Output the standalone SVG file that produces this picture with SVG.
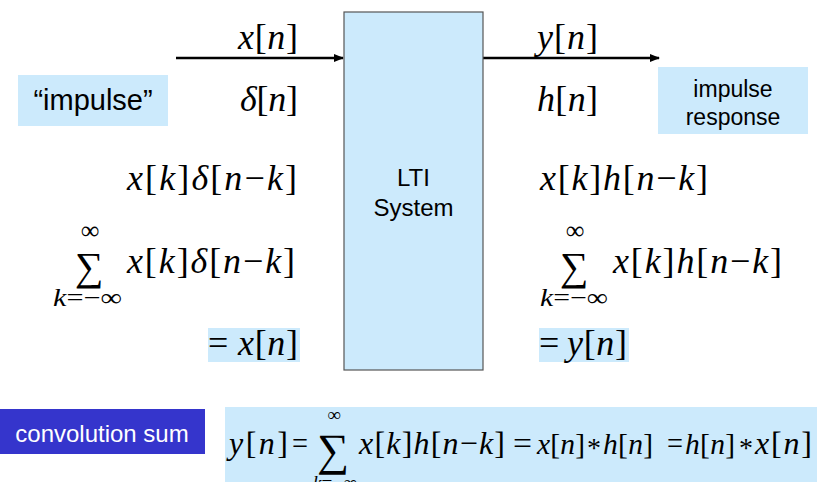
<svg xmlns="http://www.w3.org/2000/svg" width="817" height="482" viewBox="0 0 817 482">
<style>
.m{font-family:"Liberation Serif","Times New Roman",serif;fill:#000}
.i{font-style:italic}
.s{font-family:"Liberation Sans",Arial,sans-serif;fill:#000}
.hl{fill:#CCEAFC}
.ln{stroke:#000;stroke-width:2.5;fill:none}
</style>
<defs>
<marker id="ah" viewBox="0 0 10 10" refX="9" refY="5" markerWidth="4" markerHeight="4" orient="auto" markerUnits="strokeWidth">
<path d="M0,1 L10,5 L0,9 Z" fill="#000"/>
</marker>
</defs>
<rect width="817" height="482" fill="#fff"/>
<g id="connectors">
<line class="ln" x1="176" y1="58" x2="343" y2="58" marker-end="url(#ah)"/>
<line class="ln" x1="483" y1="58" x2="659" y2="58" marker-end="url(#ah)"/>
</g>
<g id="lti">
<rect x="344" y="12" width="139" height="358" fill="#CCEAFC" stroke="#555" stroke-width="1.2"/>
<text class="s" x="413.5" y="186" font-size="24" text-anchor="middle">LTI</text>
<text class="s" x="413.5" y="216" font-size="24" text-anchor="middle">System</text>
</g>
<g id="impulse">
<rect class="hl" x="18" y="75" width="150" height="51"/>
<text class="s" x="93" y="110" font-size="29" text-anchor="middle">“impulse”</text>
</g>
<g id="impulse-response">
<rect class="hl" x="658" y="67" width="150" height="67"/>
<text class="s" x="733" y="97" font-size="23" text-anchor="middle">impulse</text>
<text class="s" x="733" y="125" font-size="23" text-anchor="middle">response</text>
</g>
<g id="left-col" class="m" font-size="36">
<text x="238" y="49" textLength="60" lengthAdjust="spacing"><tspan class="i">x</tspan>[<tspan class="i">n</tspan>]</text>
<text x="240" y="111" textLength="58" lengthAdjust="spacing"><tspan class="i">δ</tspan>[<tspan class="i">n</tspan>]</text>
<text x="127" y="190" textLength="170" lengthAdjust="spacing"><tspan class="i">x</tspan>[<tspan class="i">k</tspan>]<tspan class="i">δ</tspan>[<tspan class="i">n</tspan>−<tspan class="i">k</tspan>]</text>
<text x="127" y="273" textLength="168" lengthAdjust="spacing"><tspan class="i">x</tspan>[<tspan class="i">k</tspan>]<tspan class="i">δ</tspan>[<tspan class="i">n</tspan>−<tspan class="i">k</tspan>]</text>
<text x="89" y="280" font-size="40" text-anchor="middle">∑</text>
<text x="90" y="239" font-size="26" text-anchor="middle">∞</text>
<text x="53" y="306" font-size="25" textLength="69" lengthAdjust="spacingAndGlyphs"><tspan class="i">k</tspan>=−∞</text>
<rect class="hl" x="208" y="328" width="92" height="34"/>
<text x="208" y="355">=</text>
<text x="238" y="355" textLength="60" lengthAdjust="spacing"><tspan class="i">x</tspan>[<tspan class="i">n</tspan>]</text>
</g>
<g id="right-col" class="m" font-size="36">
<text x="537" y="49" textLength="61" lengthAdjust="spacing"><tspan class="i">y</tspan>[<tspan class="i">n</tspan>]</text>
<text x="537" y="111" textLength="61" lengthAdjust="spacing"><tspan class="i">h</tspan>[<tspan class="i">n</tspan>]</text>
<text x="540" y="190" textLength="168" lengthAdjust="spacing"><tspan class="i">x</tspan>[<tspan class="i">k</tspan>]<tspan class="i">h</tspan>[<tspan class="i">n</tspan>−<tspan class="i">k</tspan>]</text>
<text x="613" y="273" textLength="169" lengthAdjust="spacing"><tspan class="i">x</tspan>[<tspan class="i">k</tspan>]<tspan class="i">h</tspan>[<tspan class="i">n</tspan>−<tspan class="i">k</tspan>]</text>
<text x="574" y="280" font-size="40" text-anchor="middle">∑</text>
<text x="575" y="239" font-size="26" text-anchor="middle">∞</text>
<text x="540" y="306" font-size="25" textLength="68" lengthAdjust="spacingAndGlyphs"><tspan class="i">k</tspan>=−∞</text>
<rect class="hl" x="539" y="328" width="90" height="34"/>
<text x="539" y="355">=</text>
<text x="567" y="355" textLength="60" lengthAdjust="spacing"><tspan class="i">y</tspan>[<tspan class="i">n</tspan>]</text>
</g>
<g id="convolution-label">
<rect x="0" y="409" width="205" height="45" fill="#3535CC"/>
<text x="102" y="442" font-size="24" text-anchor="middle" font-family="'Liberation Sans',Arial,sans-serif" fill="#fff">convolution sum</text>
</g>
<g id="convolution-formula" class="m" font-size="32">
<rect class="hl" x="225" y="407" width="592" height="75"/>
<text x="229" y="454" textLength="59" lengthAdjust="spacing"><tspan class="i">y</tspan>[<tspan class="i">n</tspan>]</text>
<text x="292" y="454" textLength="16" lengthAdjust="spacingAndGlyphs">=</text>
<text x="333" y="465" font-size="45" text-anchor="middle">∑</text>
<text x="334" y="421" font-size="19" text-anchor="middle">∞</text>
<text x="313" y="489" font-size="19" textLength="44" lengthAdjust="spacingAndGlyphs"><tspan class="i">k</tspan>=−∞</text>
<text x="359" y="454" textLength="146" lengthAdjust="spacing"><tspan class="i">x</tspan>[<tspan class="i">k</tspan>]<tspan class="i">h</tspan>[<tspan class="i">n</tspan>−<tspan class="i">k</tspan>]</text>
<text x="513" y="454" textLength="19" lengthAdjust="spacingAndGlyphs">=</text>
<text x="537" y="454" font-size="29.5" textLength="48" lengthAdjust="spacing"><tspan class="i">x</tspan>[<tspan class="i">n</tspan>]</text>
<text x="594" y="457" font-size="28" text-anchor="middle">*</text>
<text x="603" y="454" font-size="29.5" textLength="50" lengthAdjust="spacing"><tspan class="i">h</tspan>[<tspan class="i">n</tspan>]</text>
<text x="667" y="454" textLength="16" lengthAdjust="spacingAndGlyphs">=</text>
<text x="685" y="454" font-size="29.5" textLength="50" lengthAdjust="spacing"><tspan class="i">h</tspan>[<tspan class="i">n</tspan>]</text>
<text x="746" y="457" font-size="28" text-anchor="middle">*</text>
<text x="755" y="454" textLength="57" lengthAdjust="spacing"><tspan class="i">x</tspan>[<tspan class="i">n</tspan>]</text>
</g>
</svg>
